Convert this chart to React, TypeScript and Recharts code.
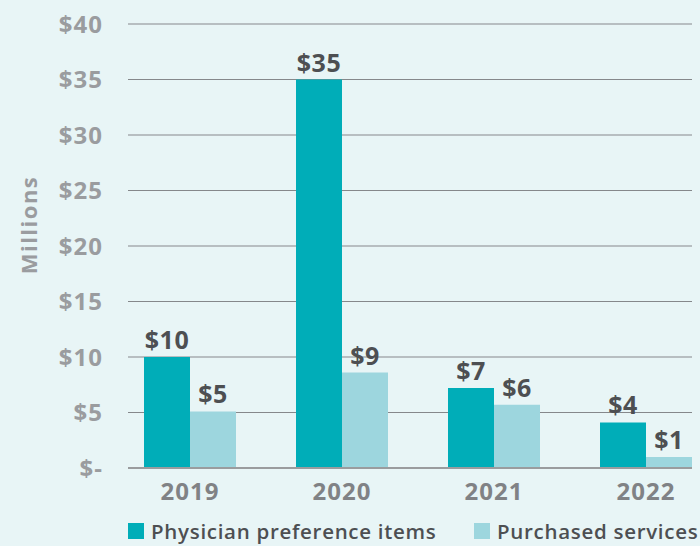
import { BarChart, Bar, XAxis, YAxis, CartesianGrid, Legend, LabelList } from "recharts";

const years = ["2019", "2020", "2021", "2022"];
const physicianItems = [10, 35, 7.2, 4.1];
const purchasedServices = [5.1, 8.6, 5.7, 1.0];
const yTicks = [0, 5, 10, 15, 20, 25, 30, 35, 40];

const data = years.map((year, i) => ({
  year,
  physician: physicianItems[i],
  purchased: purchasedServices[i],
}));

const FONT = "'Open Sans', 'DejaVu Sans', sans-serif";
const DARK = "#00adb8";
const LIGHT = "#9dd6de";

const money = (v: number) => (v === 0 ? "$-" : `$${Math.round(v)}`);

function LegendBox() {
  const items = [
    { label: "Physician preference items", color: DARK },
    { label: "Purchased services", color: LIGHT },
  ];
  return (
    <div style={{ display: "flex", paddingLeft: 128, paddingTop: 12, fontFamily: FONT, whiteSpace: "nowrap" }}>
      {items.map((it, i) => (
        <div
          key={it.label}
          style={{ display: "flex", alignItems: "center", flexShrink: 0, width: i === 0 ? 346 : undefined }}
        >
          <div style={{ width: 16, height: 16, background: it.color, marginRight: 7 }} />
          <span style={{ fontSize: 20.5, fontWeight: 600, color: "#4d4f52", letterSpacing: 0.7, lineHeight: "22px" }}>
            {it.label}
          </span>
        </div>
      ))}
    </div>
  );
}

function MillionsLabel(props: any) {
  const vb = props.viewBox || { x: 0, y: 0, width: 0, height: 0 };
  const cx = vb.x + 28;
  const cy = vb.y + vb.height / 2 - 21;
  return (
    <text
      x={cx}
      y={cy}
      transform={`rotate(-90, ${cx}, ${cy})`}
      textAnchor="middle"
      dominantBaseline="central"
      style={{ fontSize: 22, fontWeight: 700, fill: "#9a9c9f", fontFamily: FONT, letterSpacing: 1.5 }}
    >
      Millions
    </text>
  );
}

export default function App() {
  return (
    <div style={{ position: "absolute", left: 0, top: 0, width: 700, height: 546, background: "#e8f5f6" }}>
      <BarChart
        width={700}
        height={546}
        data={data}
        margin={{ top: 24, right: 8, bottom: 0, left: 0 }}
        barSize={46}
        barGap={0}
      >
        <CartesianGrid vertical={false} stroke="#85888b" strokeWidth={1.2} />
        <XAxis
          dataKey="year"
          height={40}
          padding={{ left: -14, right: -30 }}
          axisLine={{ stroke: "#9a9c9e", strokeWidth: 2 }}
          tickLine={false}
          tickMargin={9}
          tick={{ fontSize: 24, fontWeight: 700, fill: "#808285", fontFamily: FONT, letterSpacing: 1 }}
        />
        <YAxis
          width={128}
          domain={[0, 40]}
          ticks={yTicks}
          interval={0}
          axisLine={false}
          tickLine={false}
          tickSize={0}
          tickMargin={25}
          tickFormatter={money}
          tick={{ fontSize: 24, fontWeight: 700, fill: "#9a9c9f", fontFamily: FONT, letterSpacing: 1 }}
          label={<MillionsLabel />}
        />
        <Legend
          verticalAlign="bottom"
          height={38}
          wrapperStyle={{ left: 0, width: 700 }}
          content={() => <LegendBox />}
        />
        <Bar dataKey="physician" fill={DARK} isAnimationActive={false}>
          <LabelList
            dataKey="physician"
            position="top"
            offset={8}
            formatter={(v: number) => money(v)}
            style={{ fontSize: 25, fontWeight: 700, fill: "#4d4f52", fontFamily: FONT, letterSpacing: 0.5 }}
          />
        </Bar>
        <Bar dataKey="purchased" fill={LIGHT} isAnimationActive={false}>
          <LabelList
            dataKey="purchased"
            position="top"
            offset={8}
            formatter={(v: number) => money(v)}
            style={{ fontSize: 25, fontWeight: 700, fill: "#4d4f52", fontFamily: FONT, letterSpacing: 0.5 }}
          />
        </Bar>
      </BarChart>
    </div>
  );
}
